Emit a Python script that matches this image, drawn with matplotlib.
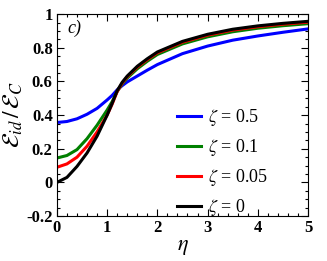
import numpy as np
import matplotlib
matplotlib.use("Agg")
import matplotlib.pyplot as plt
from matplotlib.ticker import MultipleLocator

plt.rcParams['font.family'] = ['Liberation Serif', 'DejaVu Serif']
plt.rcParams['mathtext.fontset'] = 'stix'

# values
eta = [0, 0.2, 0.4, 0.6, 0.8, 1.0, 1.1, 1.2, 1.3, 1.4, 1.6, 1.8, 2.0, 2.5, 3.0, 3.5, 4.0, 4.5, 5.0]
e_05 = [0.356, 0.362, 0.378, 0.405, 0.44, 0.49, 0.517, 0.55, 0.575, 0.597, 0.632, 0.667, 0.70, 0.765, 0.81, 0.845, 0.87, 0.892, 0.912]
e_01 = [0.145, 0.16, 0.195, 0.26, 0.34, 0.43, 0.48, 0.54, 0.585, 0.62, 0.675, 0.72, 0.76, 0.823, 0.865, 0.895, 0.916, 0.931, 0.943]
e_005 = [0.09, 0.11, 0.15, 0.215, 0.30, 0.40, 0.465, 0.54, 0.59, 0.628, 0.685, 0.73, 0.77, 0.833, 0.875, 0.905, 0.925, 0.94, 0.952]
e_0 = [0.0, 0.03, 0.095, 0.175, 0.275, 0.40, 0.47, 0.545, 0.595, 0.632, 0.69, 0.735, 0.775, 0.838, 0.88, 0.91, 0.93, 0.945, 0.957]

series = [(e_05, 'blue', '0.5'),
          (e_01, 'green', '0.1'),
          (e_005, 'red', '0.05'),
          (e_0, 'black', '0')]

fig = plt.figure(figsize=(3.27, 2.61), dpi=100)
ax = fig.add_axes([0.174, 0.172, 0.768, 0.774])

for y, c, z in series:
    ax.plot(eta, y, color=c, lw=2.2, label=r'$\zeta$ = ' + z)

ax.set_xlim(0, 5)
ax.set_ylim(-0.2, 1)
ax.xaxis.set_major_locator(MultipleLocator(1))
ax.xaxis.set_minor_locator(MultipleLocator(0.2))
ax.yaxis.set_minor_locator(MultipleLocator(0.05))
ax.set_yticks([-0.2, 0, 0.2, 0.4, 0.6, 0.8, 1])
ax.set_yticklabels(['-0.2', '0', '0.2', '0.4', '0.6', '0.8', '1'])
ax.tick_params(which='both', direction='in', top=True, right=True, width=0.8)
ax.tick_params(which='major', length=5, labelsize=12, pad=3)
ax.tick_params(which='minor', length=2.5)
for t in ax.get_xticklabels() + ax.get_yticklabels():
    t.set_fontweight('bold')

ax.set_xlabel(r'$\eta$', fontsize=16, labelpad=1)
ax.set_ylabel(r'$\mathcal{E}_{id}\,/\,\mathcal{E}_C$', fontsize=17, labelpad=1)
ax.text(0.04, 0.93, 'c)', transform=ax.transAxes, fontsize=13, style='italic', va='center')

leg = ax.legend(loc='upper left', bbox_to_anchor=(0.45, 0.575), frameon=False, fontsize=13,
                handlelength=1.3, handletextpad=0.4, labelspacing=0.5, borderaxespad=0)
for h in leg.get_lines():
    h.set_linewidth(2.2)

fig.savefig('out.png', dpi=100)
